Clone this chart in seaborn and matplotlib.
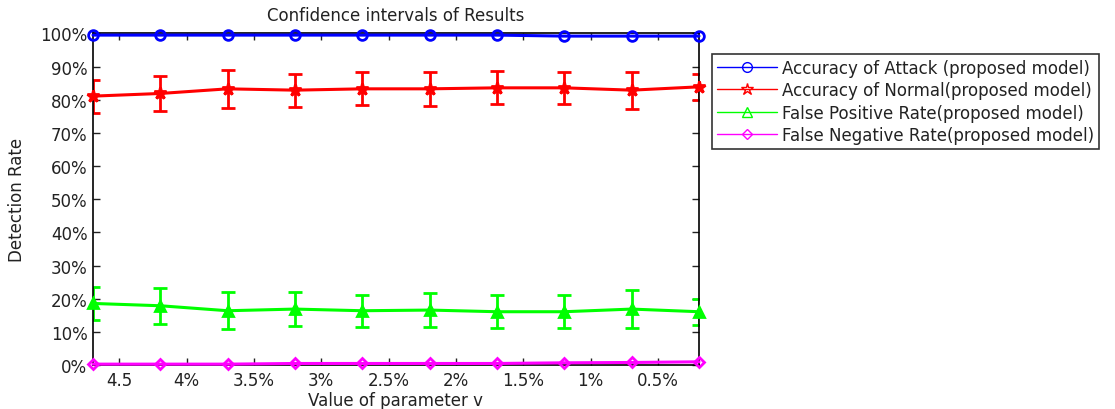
import numpy as np
import pandas as pd
import matplotlib
matplotlib.use("Agg")
import matplotlib.pyplot as plt
from matplotlib.lines import Line2D
import seaborn as sns

# positions of the 10 runs along the x axis
runs = [1, 2, 3, 4, 5, 6, 7, 8, 9, 10]
tick_pos = [1.39, 2.39, 3.39, 4.39, 5.39, 6.39, 7.39, 8.39, 9.39]
tick_labels = ["4.5", "4%", "3.5%", "3%", "2.5%", "2%", "1.5%", "1%", "0.5%"]

acc_attack = [99.5, 99.5, 99.5, 99.5, 99.5, 99.5, 99.5, 99.2, 99.2, 99.2]
acc_normal = [81.1, 81.9, 83.3, 82.9, 83.3, 83.3, 83.6, 83.6, 82.9, 83.9]
acc_normal_err = [5.0, 5.4, 5.7, 5.0, 5.0, 5.1, 5.0, 4.9, 5.6, 3.9]
fp_rate = [18.6, 17.9, 16.4, 16.9, 16.4, 16.6, 16.1, 16.1, 16.9, 16.1]
fp_rate_err = [5.0, 5.5, 5.6, 5.0, 4.8, 5.0, 5.0, 5.0, 5.6, 3.9]
fn_rate = [0.3, 0.3, 0.3, 0.5, 0.5, 0.5, 0.5, 0.7, 0.8, 1.0]

labels = ["Accuracy of Attack (proposed model)",
          "Accuracy of Normal(proposed model)",
          "False Positive Rate(proposed model)",
          "False Negative Rate(proposed model)"]
colors = ["#0000ff", "#ff0000", "#00ff00", "#ff00ff"]
markers = ["o", "*", "^", "D"]
msizes = [7, 9, 7, 5.5]

sns.set_theme(style="white")
plt.rcParams['font.family'] = ['DejaVu Sans']
plt.rcParams['text.color'] = '#222222'
plt.rcParams['axes.labelcolor'] = '#222222'

fig = plt.figure(figsize=(11.15, 4.10), dpi=100)
ax = fig.add_axes([0.0834, 0.107, 0.5435, 0.809])

series = [acc_attack, acc_normal, fp_rate, fn_rate]
errs = [None, acc_normal_err, fp_rate_err, None]
for vals, err, col, mk, ms in zip(series, errs, colors, markers, msizes):
    df = pd.DataFrame({"run": runs, "val": vals})
    filled = mk in ("*", "^")
    sns.lineplot(data=df, x="run", y="val", ax=ax, color=col, linewidth=2.2,
                 marker=mk, markersize=ms,
                 markerfacecolor=col if filled else "none",
                 markeredgecolor=col, markeredgewidth=2, clip_on=False, zorder=3)
    if err is not None:
        ax.errorbar(runs, vals, yerr=err, fmt="none", ecolor=col,
                    elinewidth=2, capsize=5, capthick=2, zorder=2)

ax.set_xlim(1, 10)
ax.set_ylim(0, 100)
ax.set_xticks(tick_pos)
ax.set_xticklabels(tick_labels)
ax.set_yticks(range(0, 101, 10))
ax.set_yticklabels([f"{v}%" for v in range(0, 101, 10)])
ax.tick_params(direction="in", length=5, width=1, labelsize=12, colors="#222222",
               top=True, right=True, left=True, bottom=True, pad=4)
for s in ax.spines.values():
    s.set_color("black")
    s.set_linewidth(1.2)

ax.set_title("Confidence intervals of Results", fontsize=12, pad=10)
ax.set_xlabel("Value of parameter v", fontsize=12, labelpad=2)
ax.set_ylabel("Detection Rate", fontsize=12, labelpad=10)

handles = [Line2D([0], [0], color=c, lw=1, marker=m, markersize=s,
                  markerfacecolor="none", markeredgecolor=c)
           for c, m, s in zip(colors, markers, msizes)]
leg = fig.legend(handles, labels, loc="upper left", bbox_to_anchor=(0.6385, 0.866),
                 fontsize=12, frameon=True, fancybox=False, handlelength=3.6,
                 borderpad=0.3, labelspacing=0.26, handletextpad=0.3,
                 borderaxespad=0)
leg.get_frame().set_edgecolor("black")
leg.get_frame().set_linewidth(1.2)

fig.savefig("out.png", dpi=100)
